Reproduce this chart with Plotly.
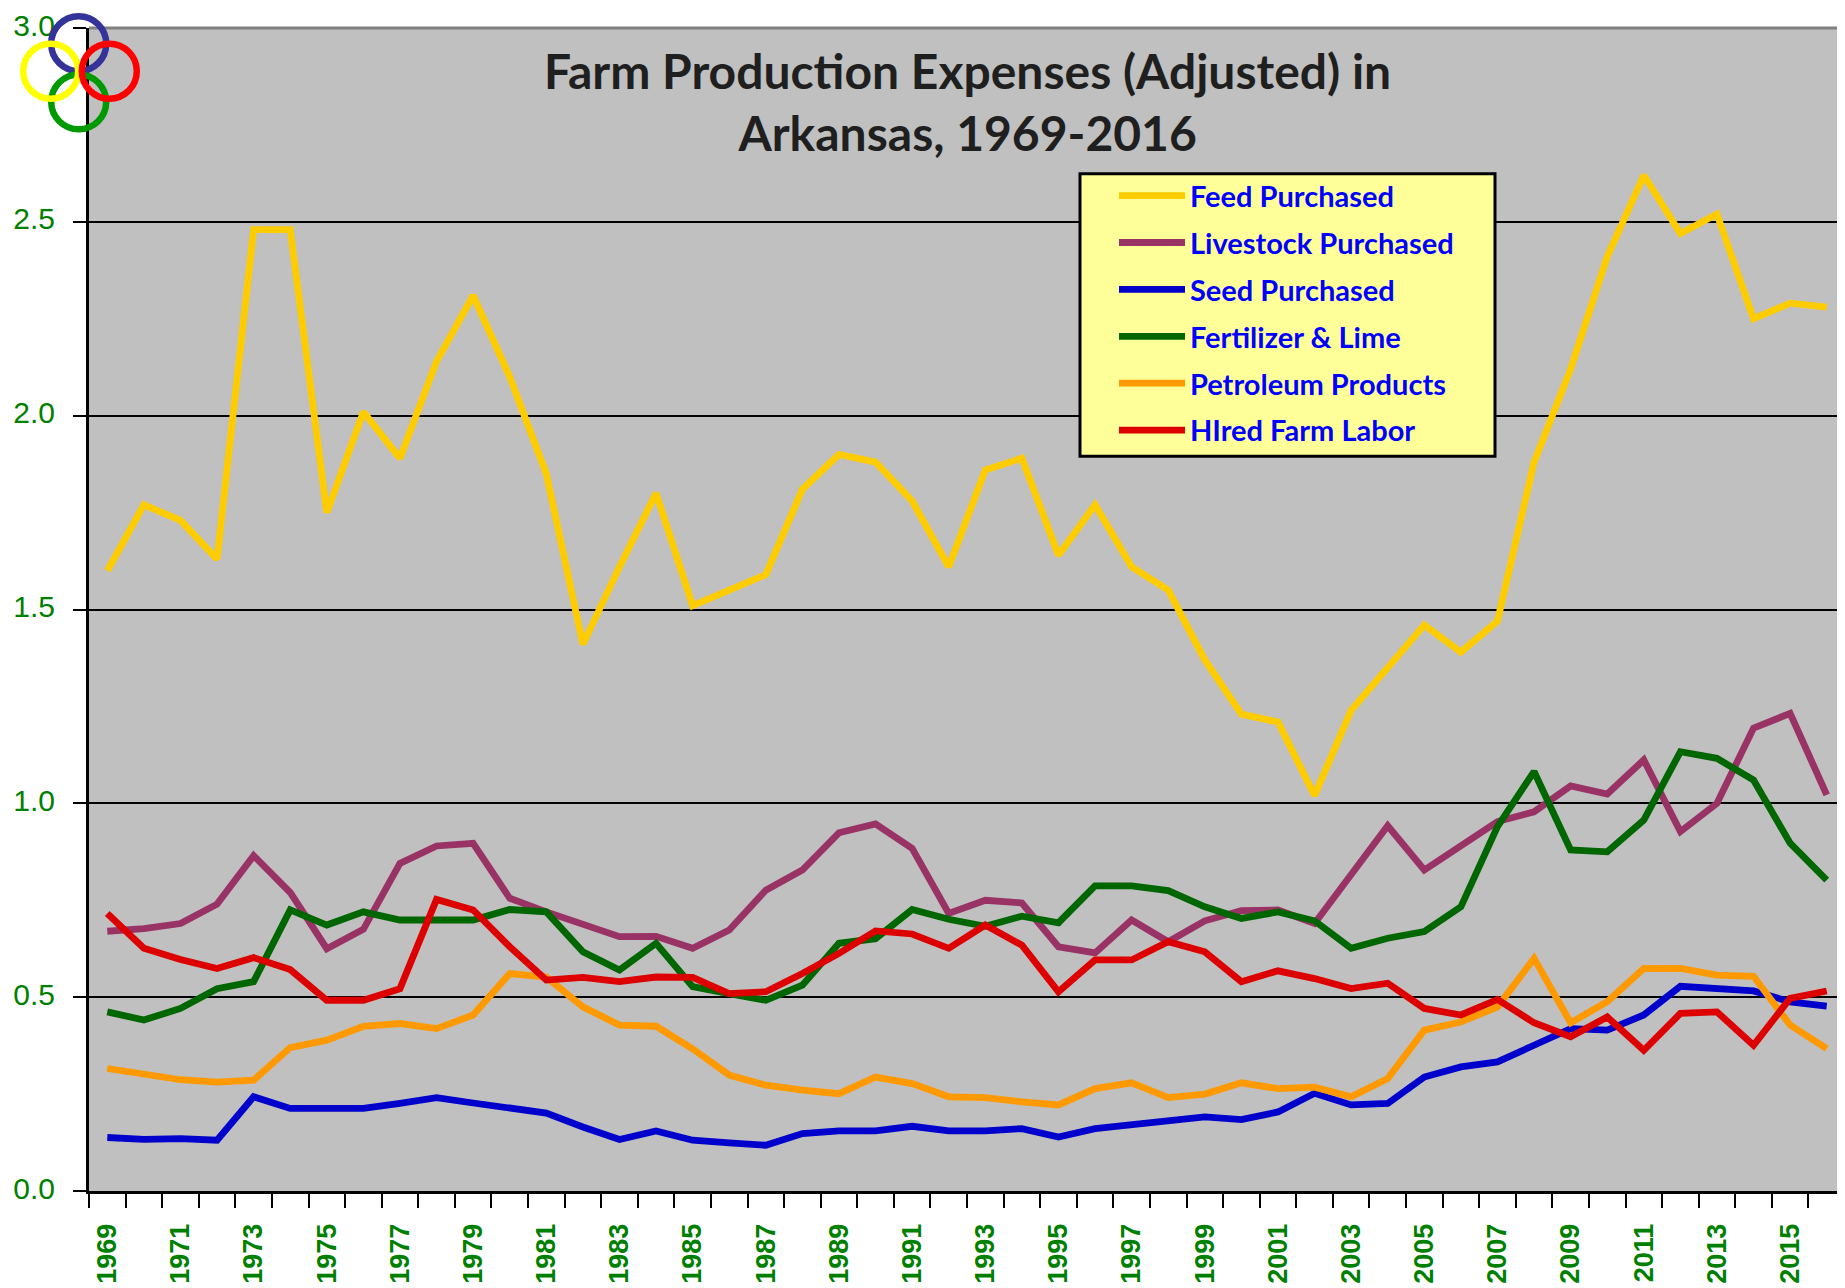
import plotly.graph_objects as go

# ---------------- data ----------------
years = list(range(1969, 2017))
tick_years = list(range(1969, 2016, 2))
y_ticks = [0.0, 0.5, 1.0, 1.5, 2.0, 2.5, 3.0]

series_names = ["Feed Purchased", "Livestock Purchased", "Seed Purchased",
                "Fertilizer & Lime", "Petroleum Products", "HIred Farm Labor"]

feed = [1.60, 1.77, 1.73, 1.63, 2.48, 2.48, 1.75, 2.01, 1.89, 2.14,
        2.31, 2.10, 1.85, 1.41, 1.61, 1.80, 1.51, 1.55, 1.59, 1.81,
        1.90, 1.88, 1.78, 1.61, 1.86, 1.89, 1.64, 1.77, 1.61, 1.55,
        1.37, 1.23, 1.21, 1.02, 1.24, 1.35, 1.46, 1.39, 1.47, 1.88,
        2.12, 2.41, 2.62, 2.47, 2.52, 2.25, 2.29, 2.28]

livestock = [0.670, 0.677, 0.690, 0.740, 0.865, 0.770, 0.625, 0.675, 0.845, 0.890, 0.897, 0.755,
             0.720, 0.686, 0.656, 0.657, 0.626, 0.673, 0.776, 0.828, 0.924, 0.947, 0.884, 0.716,
             0.750, 0.743, 0.630, 0.614, 0.699, 0.643, 0.697, 0.723, 0.725, 0.690, 0.819, 0.942,
             0.828, 0.888, 0.953, 0.978, 1.045, 1.024, 1.112, 0.927, 1.000, 1.194, 1.232, 1.022]

seed = [0.138, 0.133, 0.135, 0.131, 0.243, 0.213, 0.213, 0.213, 0.226, 0.241, 0.227, 0.213,
        0.201, 0.165, 0.133, 0.155, 0.131, 0.124, 0.118, 0.148, 0.155, 0.155, 0.167, 0.155,
        0.155, 0.161, 0.139, 0.161, 0.170, 0.178, 0.191, 0.184, 0.204, 0.252, 0.222, 0.226,
        0.294, 0.320, 0.333, 0.376, 0.419, 0.415, 0.454, 0.528, 0.522, 0.516, 0.488, 0.477]

fertilizer = [0.462, 0.441, 0.471, 0.522, 0.540, 0.725, 0.686, 0.720, 0.699, 0.699, 0.699, 0.726,
              0.720, 0.617, 0.570, 0.639, 0.527, 0.509, 0.492, 0.531, 0.639, 0.651, 0.726, 0.701,
              0.683, 0.709, 0.692, 0.787, 0.787, 0.775, 0.733, 0.703, 0.720, 0.697, 0.626, 0.652,
              0.669, 0.733, 0.940, 1.082, 0.880, 0.875, 0.957, 1.133, 1.116, 1.060, 0.897, 0.802]

petroleum = [0.316, 0.301, 0.287, 0.281, 0.286, 0.370, 0.389, 0.425, 0.432, 0.419, 0.454, 0.561,
             0.552, 0.475, 0.428, 0.425, 0.367, 0.299, 0.273, 0.260, 0.251, 0.294, 0.277, 0.243,
             0.241, 0.230, 0.222, 0.264, 0.279, 0.241, 0.250, 0.279, 0.264, 0.268, 0.243, 0.290,
             0.415, 0.436, 0.475, 0.600, 0.434, 0.488, 0.574, 0.574, 0.557, 0.554, 0.428, 0.367]

labor = [0.716, 0.626, 0.597, 0.574, 0.602, 0.571, 0.492, 0.492, 0.522, 0.752, 0.725, 0.630,
         0.544, 0.551, 0.540, 0.552, 0.551, 0.509, 0.514, 0.561, 0.613, 0.671, 0.663, 0.626,
         0.686, 0.634, 0.514, 0.596, 0.596, 0.643, 0.617, 0.540, 0.568, 0.548, 0.522, 0.536,
         0.471, 0.454, 0.494, 0.434, 0.398, 0.449, 0.363, 0.458, 0.462, 0.376, 0.497, 0.516]

series_values = [feed, livestock, seed, fertilizer, petroleum, labor]
series_colors = ["#FFCC00", "#993366", "#0000CC", "#006600", "#FF9900", "#DD0000"]

title_text = "Farm Production Expenses (Adjusted) in<br>Arkansas, 1969-2016"

# ---------------- layout geometry ----------------
# the page body has an 8px margin, so the figure is sized to fit inside the window
BODY = 8
W, H = 1845 - BODY, 1288 - BODY
ML, MR, MT, MB = 89 - BODY, 0, 26 - BODY, 97
PW, PH = W - ML - MR, H - MT - MB
PLOT_LEFT, PLOT_TOP = ML + BODY, MT + BODY
PLOT_BOTTOM = PLOT_TOP + PH


def px_x(px):
    """window pixel x -> paper fraction"""
    return (px - PLOT_LEFT) / PW


def px_y(py):
    """window pixel y -> paper fraction"""
    return (PLOT_BOTTOM - py) / PH


fig = go.Figure()
for name, vals, col in zip(series_names, series_values, series_colors):
    fig.add_trace(go.Scatter(
        x=years, y=vals, name=name, mode="lines", legendgroup=name,
        line=dict(color=col, width=6.8), hoverinfo="skip"))

shapes = []
# top gray border of the plot area
shapes.append(dict(type="line", xref="paper", yref="paper", x0=0, x1=1, y0=1, y1=1,
                   line=dict(color="#808080", width=3), layer="above"))
# legend box
shapes.append(dict(type="rect", xref="paper", yref="paper",
                   x0=px_x(1080), x1=px_x(1495), y0=px_y(455), y1=px_y(172),
                   fillcolor="#FFFF99", line=dict(color="black", width=3), layer="above"))
# olympic-style rings logo (decoration)
rings = [("#333399", 78.7, 41.7), ("#009900", 78.7, 100.0),
         ("#FFFF00", 50.7, 69.3), ("#FF0000", 109.3, 69.3)]
r = 27.5
for col, cx, cy in rings:
    shapes.append(dict(type="circle", xref="paper", yref="paper",
                       x0=px_x(cx - r), x1=px_x(cx + r), y0=px_y(cy + r), y1=px_y(cy - r),
                       line=dict(color=col, width=6.5), fillcolor="rgba(0,0,0,0)", layer="above"))

fig.update_layout(
    width=W, height=H,
    margin=dict(l=ML, r=MR, t=MT, b=MB, pad=0),
    paper_bgcolor="white",
    plot_bgcolor="#C0C0C0",
    showlegend=True,
    legend=dict(
        x=px_x(1114), y=px_y(168.5), xanchor="left", yanchor="top",
        bgcolor="rgba(0,0,0,0)", borderwidth=0,
        font=dict(family="Lato", size=29, color="#0000FF", weight="bold"),
        itemwidth=66, tracegroupgap=6.2, traceorder="grouped",
    ),
    annotations=[dict(
        text=title_text, xref="paper", yref="paper", x=0.5, y=px_y(100),
        xanchor="center", yanchor="middle", showarrow=False,
        font=dict(family="Lato", size=48, color="#1F1F1F", weight="bold"),
    )],
    shapes=shapes,
    xaxis=dict(
        range=[1968.5, 2016.5], tickmode="array", tickvals=tick_years,
        ticktext=[str(y) for y in tick_years], tickangle=-90,
        ticks="", showgrid=False, zeroline=False,
        showline=True, linecolor="black", linewidth=3,
        tickfont=dict(family="Liberation Sans", size=27, color="#008000", weight="bold"),
        ticklabelstandoff=19,
        minor=dict(ticks="outside", ticklen=14, tickwidth=2, tickcolor="black",
                   tick0=1968.5, dtick=1, showgrid=False),
    ),
    yaxis=dict(
        range=[0, 3], tickmode="array", tickvals=y_ticks, tickformat=".1f",
        ticks="outside", ticklen=13, tickwidth=2, tickcolor="black",
        showgrid=True, gridcolor="black", gridwidth=2, zeroline=False,
        showline=True, linecolor="black", linewidth=3,
        tickfont=dict(family="Liberation Sans", size=30, color="#008000"),
        ticklabelstandoff=12, ticklabelshift=-3, ticklabeloverflow="allow",
    ),
)

fig.write_html("out.html")
